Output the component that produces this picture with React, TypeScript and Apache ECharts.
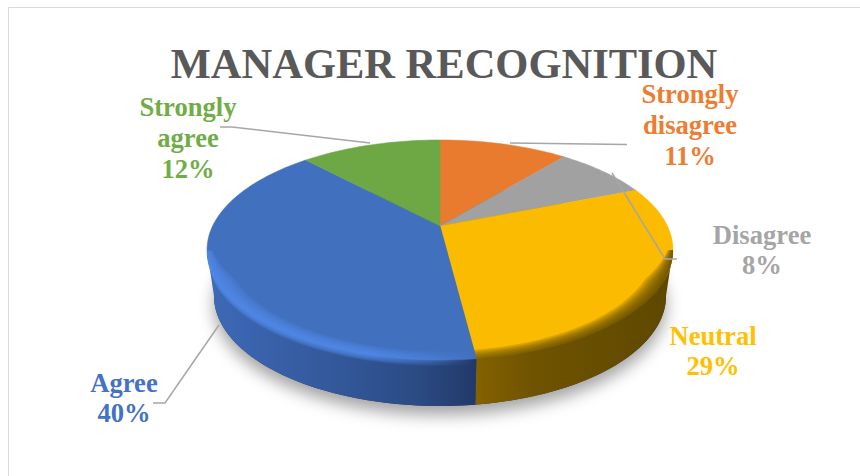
import React, { useEffect, useRef } from "react";
import * as echarts from "echarts";

const titleText = "MANAGER RECOGNITION";
const categories = ["Strongly disagree", "Disagree", "Neutral", "Agree", "Strongly agree"];
const values = [11, 8, 29, 40, 12];
const percentLabels = ["11%", "8%", "29%", "40%", "12%"];
const labelLines = [["Strongly", "disagree"], ["Disagree"], ["Neutral"], ["Agree"], ["Strongly", "agree"]];

const faceColors = ["#E97B2E", "#A1A1A1", "#FBBB00", "#4170BF", "#6DA845"];
const labelColors = ["#ED7D31", "#A5A5A5", "#FFC000", "#4472C4", "#70AD47"];

const labelCenters = [[690, 125], [762, 250], [713, 351], [124, 398], [188, 138]];
const leaders = [
  [[510, 143], [627, 144.5]],
  [[677, 259], [665, 259], [612, 173]],
  [],
  [[153, 403], [165, 403], [219, 325]],
  [[220, 127], [232, 127], [370, 143]],
];

const CX = 440, APEX_Y = 226, R = 227.4, B = 104.8, K = -0.218;
const DEPTH = 46, BOTTOM_SCALE = 0.97, ELLIPSE_CY = 250;
const FRONT_RIGHT = 102.6, FRONT_LEFT = 257.4;
const BEVEL_STEPS = [1, 0.85, 0.7, 0.55, 0.4, 0.25, 0.12];
const SERIF = '"Liberation Serif", "Times New Roman", serif';

const total = values.reduce((a, b) => a + b, 0);
const cumulative = values.reduce<number[]>((acc, v) => [...acc, acc[acc.length - 1] + v], [0]);

function rim(deg: number): number[] {
  const t = (deg * Math.PI) / 180;
  const u = Math.sin(t), v = -Math.cos(t);
  const d = 1 + K * v;
  return [CX + (R * u) / d, APEX_Y + (B * v) / d];
}
function bottomRim(deg: number): number[] {
  const [x, y] = rim(deg);
  return [CX + (x - CX) * BOTTOM_SCALE, y + DEPTH];
}
function sample(a: number, b: number, fn: (d: number) => number[]): number[][] {
  const n = Math.max(2, Math.ceil(Math.abs(b - a) / 1.5));
  const pts: number[][] = [];
  for (let i = 0; i <= n; i++) pts.push(fn(a + ((b - a) * i) / n));
  return pts;
}
const grad = (x0: number, x1: number, stops: [number, string][]) =>
  new echarts.graphic.LinearGradient(x0, 0, x1, 0, stops.map(([offset, color]) => ({ offset, color })), true);

function wallFill(i: number) {
  if (i === 3) return grad(210, 474, [[0, "#3D69B6"], [0.45, "#34599C"], [0.8, "#2A4A82"], [1, "#223A6A"]]);
  return grad(474, 672, [[0, "#846200"], [0.3, "#6F5300"], [1, "#5E4700"]]);
}
function bevelFill(i: number) {
  if (i === 3) return grad(207, 474, [[0, "rgba(82,140,238,0.2)"], [0.6, "rgba(82,140,238,0.2)"], [1, "rgba(82,140,238,0)"]]);
  return grad(474, 672, [[0, "rgba(110,82,0,0.2)"], [0.4, "rgba(100,76,0,0.22)"], [1, "rgba(94,71,0,0.24)"]]);
}
// one soft band along the rim: tapers to nothing at the silhouette end of the slice's front part
function bevelBand(f0: number, f1: number, silhouetteAt: number, size: number, below: number): number[][] {
  const taper = (d: number) => Math.min(1, Math.abs(d - silhouetteAt) / 22);
  const inner = sample(f0, f1, (d) => {
    const [x, y] = rim(d);
    const s = 1 - (size / 110) * taper(d);
    return [CX + (x - CX) * s, ELLIPSE_CY + (y - ELLIPSE_CY) * s];
  });
  const outer = sample(f1, f0, (d) => {
    const [x, y] = rim(d);
    return [x, y + below * taper(d)];
  });
  return [...inner, ...outer];
}

function renderSlice(params: any) {
  const i = params.dataIndex;
  const a0 = (cumulative[i] / total) * 360;
  const a1 = (cumulative[i + 1] / total) * 360;
  const children: any[] = [];
  if (i === 0) {
    children.push({
      type: "polygon",
      shape: { points: sample(0, 360, bottomRim) },
      style: { fill: "#3A3A3A", shadowBlur: 16, shadowColor: "rgba(0,0,0,0.36)", shadowOffsetY: 9 },
      silent: true,
    });
  }
  const f0 = Math.max(a0, FRONT_RIGHT);
  const f1 = Math.min(a1, FRONT_LEFT);
  const hasFront = f1 > f0;
  if (hasFront) {
    children.push({
      type: "polygon",
      shape: { points: [...sample(f0, f1, rim), ...sample(f1, f0, bottomRim)] },
      style: { fill: wallFill(i) },
      silent: true,
    });
  }
  children.push({
    type: "polygon",
    shape: { points: [[CX, APEX_Y], ...sample(a0, a1, rim)] },
    style: { fill: faceColors[i], stroke: faceColors[i], lineWidth: 0.5 },
    silent: true,
  });
  if (hasFront) {
    const silhouetteAt = i === 3 ? FRONT_LEFT + 6 : FRONT_RIGHT - 6;
    for (const k of BEVEL_STEPS) {
      children.push({
        type: "polygon",
        shape: { points: bevelBand(f0, f1, silhouetteAt, 9 * k, i === 3 ? 6 * k : k) },
        style: { fill: bevelFill(i) },
        silent: true,
      });
    }
  }
  return { type: "group", children };
}

function renderLabel(params: any) {
  const i = params.dataIndex;
  const children: any[] = [];
  if (leaders[i].length) {
    children.push({
      type: "polyline",
      shape: { points: leaders[i] },
      style: { stroke: "#A6A6A6", lineWidth: 1.5, fill: "none" },
      silent: true,
    });
  }
  children.push({
    type: "text",
    style: {
      text: [...labelLines[i], percentLabels[i]].join("\n"),
      x: labelCenters[i][0],
      y: labelCenters[i][1],
      align: "center",
      verticalAlign: "middle",
      lineHeight: 30.7,
      fill: labelColors[i],
      font: `bold 26.6px ${SERIF}`,
    },
    silent: true,
  });
  return { type: "group", children };
}

export default function App() {
  const ref = useRef<HTMLDivElement>(null);
  useEffect(() => {
    const chart = echarts.init(ref.current!, null, { renderer: "svg" });
    const seriesData = categories.map((name, i) => ({ name, value: values[i] }));
    chart.setOption({
      animation: false,
      backgroundColor: "#ffffff",
      title: {
        text: titleText,
        left: 439,
        top: 37,
        textAlign: "center",
        textStyle: { fontFamily: SERIF, fontWeight: "bold", fontSize: 42.5, color: "#595959" },
      },
      graphic: [
        { type: "line", shape: { x1: 8.5, y1: 7.5, x2: 860, y2: 7.5 }, style: { stroke: "#D9D9D9", lineWidth: 1 }, silent: true },
        { type: "line", shape: { x1: 8.5, y1: 7.5, x2: 8.5, y2: 476 }, style: { stroke: "#D9D9D9", lineWidth: 1 }, silent: true },
      ],
      series: [
        { type: "custom", coordinateSystem: "none", renderItem: renderSlice, data: seriesData, z: 2, silent: true },
        { type: "custom", coordinateSystem: "none", renderItem: renderLabel, data: seriesData, z: 3, silent: true },
      ],
    });
    return () => chart.dispose();
  }, []);
  return <div ref={ref} style={{ position: "fixed", left: 0, top: 0, width: 860, height: 476 }} />;
}
